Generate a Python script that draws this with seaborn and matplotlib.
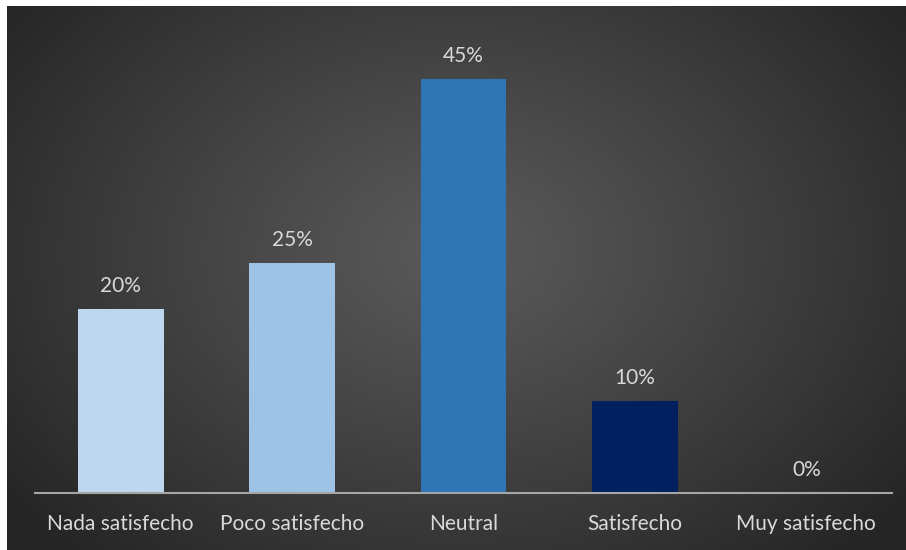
import numpy as np
import pandas as pd
import matplotlib
matplotlib.use("Agg")
import matplotlib.pyplot as plt
import seaborn as sns

categories = ["Nada satisfecho", "Poco satisfecho", "Neutral", "Satisfecho", "Muy satisfecho"]
percentages = [20, 25, 45, 10, 0]
bar_colors = ["#BDD7EE", "#9DC3E6", "#2E75B6", "#002060", "#1F4E79"]

sns.set_theme(style="white")
plt.rcParams["font.family"] = ["Lato", "DejaVu Sans"]

text_color = "#D9D9D9"

fig = plt.figure(figsize=(9.06, 5.5), dpi=100, facecolor="white")

# radial gradient backdrop
bg = fig.add_axes([7 / 906, 0, 899 / 906, 544 / 550])
bg.set_axis_off()
h, w = 544, 899
yy, xx = np.mgrid[0:h, 0:w]
cx, cy = 0.50 * w, 0.45 * h
r = np.sqrt(((xx - cx) / (0.62 * w)) ** 2 + ((yy - cy) / (0.75 * h)) ** 2)
r = np.clip(r, 0, 1)
light, dark = 0x5A / 255, 0x26 / 255
vals = light + (dark - light) * r ** 1.1
bg.imshow(np.dstack([vals, vals, vals]), aspect="auto", extent=[0, 1, 0, 1])
bg.set_xlim(0, 1)
bg.set_ylim(0, 1)

ax = fig.add_axes([35 / 906, 57 / 550, 857 / 906, 460 / 550])
ax.patch.set_alpha(0)

df = pd.DataFrame({"cat": categories, "pct": percentages})
sns.barplot(data=df, x="cat", y="pct", hue="cat", palette=bar_colors,
            legend=False, width=0.5, saturation=1, linewidth=0,
            edgecolor="none", ax=ax)

for container in ax.containers:
    ax.bar_label(container, labels=[f"{int(v)}%" for v in container.datavalues],
                 padding=9, color=text_color, fontsize=15)

ax.set_xlim(-0.5, 4.5)
ax.set_ylim(0, 50)
ax.set_xlabel("")
ax.set_ylabel("")
ax.set_yticks([])
for side in ["top", "right", "left"]:
    ax.spines[side].set_visible(False)
ax.spines["bottom"].set_color("#A6A6A6")
ax.spines["bottom"].set_linewidth(1.5)
ax.spines["bottom"].set_zorder(5)
ax.tick_params(axis="x", length=0, pad=15, labelsize=15, labelcolor=text_color)

fig.savefig("out.png", dpi=100, facecolor="white")
